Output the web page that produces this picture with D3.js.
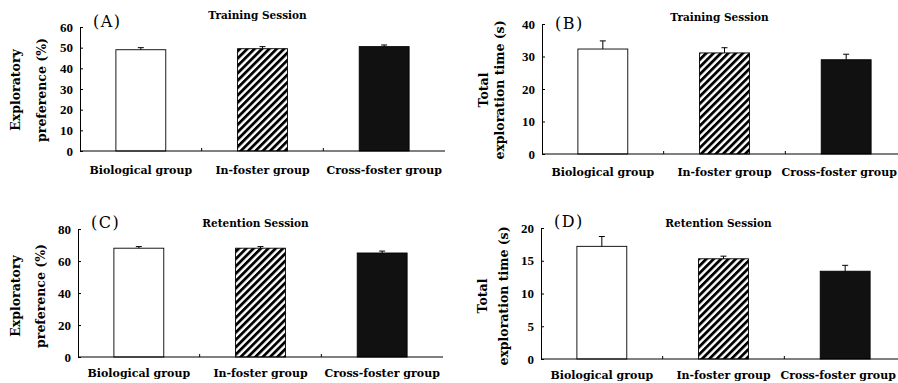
<!DOCTYPE html>
<html>
<head>
<meta charset="utf-8">
<script src="https://cdn.jsdelivr.net/npm/d3@7"></script>
<style>
    body { margin: 0; background: #fff; }
    svg { display: block; }
    text { font-family: "DejaVu Serif", "Liberation Serif", serif; fill: #000; }
</style>
</head>
<body>
<svg id="chart" width="898" height="383"></svg>
<script>
//categories
var groups = ['Biological group', 'In-foster group', 'Cross-foster group'];

//training session values
var prefTraining = [49, 49.5, 50.5],
    prefTrainingErr = [1, 1, 0.8],
    timeTraining = [32.3, 31.1, 29.0],
    timeTrainingErr = [2.5, 1.6, 1.7];

//retention session values
var prefRetention = [68, 68, 65],
    prefRetentionErr = [1, 1, 1.2],
    timeRetention = [17.2, 15.3, 13.4],
    timeRetentionErr = [1.5, 0.4, 0.9];

//tick labels
var prefTrainingTicks = [0, 10, 20, 30, 40, 50, 60],
    timeTrainingTicks = [0, 10, 20, 30, 40],
    prefRetentionTicks = [0, 20, 40, 60, 80],
    timeRetentionTicks = [0, 5, 10, 15, 20];

var svg = d3.select('#chart');

//hatch pattern for in-foster bars
var defs = svg.append('defs');
defs.append('pattern')
    .attr('id', 'hatch')
    .attr('patternUnits', 'userSpaceOnUse')
    .attr('width', 5.2)
    .attr('height', 5.2)
    .attr('patternTransform', 'rotate(45)')
    .call(function (p) {
        p.append('rect').attr('width', 5.2).attr('height', 5.2).attr('fill', '#fff');
        p.append('rect').attr('x', 0).attr('y', 0).attr('width', 2.8).attr('height', 5.2)
            .attr('fill', '#000');
    });

var fills = ['#fff', 'url(#hatch)', '#111'];

//draws one panel
function drawPanel(o) {
    var x = d3.scaleBand().domain(groups)
        .range([o.left, o.right])
        .paddingInner(0.59).paddingOuter(0.295);
    var y = d3.scaleLinear().domain([0, o.max]).range([o.bottom, o.top]);

    var g = svg.append('g');

    //bars
    g.selectAll('.bar')
        .data(o.values)
        .enter().append('rect')
        .attr('class', 'bar')
        .attr('x', function (d, i) { return x(groups[i]); })
        .attr('width', x.bandwidth())
        .attr('y', function (d) { return y(d); })
        .attr('height', function (d) { return y(0) - y(d); })
        .attr('fill', function (d, i) { return fills[i]; })
        .attr('stroke', '#000')
        .attr('stroke-width', 0.9);

    //error bars (upper only)
    o.values.forEach(function (v, i) {
        var cx = x(groups[i]) + x.bandwidth() / 2;
        g.append('line').attr('x1', cx).attr('x2', cx)
            .attr('y1', y(v)).attr('y2', y(v + o.errors[i]))
            .attr('stroke', '#000').attr('stroke-width', 1);
        g.append('line').attr('x1', cx - 3).attr('x2', cx + 3)
            .attr('y1', y(v + o.errors[i])).attr('y2', y(v + o.errors[i]))
            .attr('stroke', '#000').attr('stroke-width', 1);
    });

    //y axis
    var yAxis = d3.axisLeft(y).tickValues(o.ticks).tickSizeInner(-3).tickSizeOuter(0).tickPadding(7);
    var ya = g.append('g').attr('transform', 'translate(' + o.left + ',0)').call(yAxis);
    ya.selectAll('text').style('font-family', '"Liberation Serif", serif')
        .style('font-size', '13px').style('font-weight', 'bold');

    //x axis
    var xa = g.append('g').attr('transform', 'translate(0,' + o.bottom + ')');
    xa.append('line').attr('x1', o.left).attr('x2', o.right).attr('stroke', '#000');
    xa.selectAll('.xtick')
        .data(x.domain().slice(1))
        .enter().append('line')
        .attr('x1', function (d) { return x(d) - x.step() * 0.295; })
        .attr('x2', function (d) { return x(d) - x.step() * 0.295; })
        .attr('y1', 0).attr('y2', -3)
        .attr('stroke', '#000');
    xa.selectAll('.xlabel')
        .data(groups)
        .enter().append('text')
        .attr('x', function (d, i) { return x(d) + x.bandwidth() / 2 - (i === 2 ? o.lastShift : 0); })
        .attr('y', o.labelDy)
        .attr('text-anchor', 'middle')
        .style('font-size', '11px')
        .style('font-weight', 'bold')
        .text(function (d) { return d; });

    //title and panel letter
    g.append('text')
        .attr('x', x(groups[1]) + x.bandwidth() / 2 - 5)
        .attr('y', o.titleY)
        .attr('text-anchor', 'middle')
        .style('font-size', '10.5px')
        .style('font-weight', 'bold')
        .text(o.title);
    g.append('text')
        .attr('x', o.left + 13)
        .attr('y', o.letterY)
        .style('font-size', '16px')
        .style('letter-spacing', '1.5px')
        .text(o.letter);

    //y label lines
    o.yLabel.forEach(function (t, i) {
        g.append('text')
            .attr('transform', 'translate(' + o.yLabelX[i] + ',' + o.yLabelY + ') rotate(-90)')
            .attr('text-anchor', 'middle')
            .style('font-size', '12.5px')
            .style('font-weight', 'bold')
            .text(t);
    });
}

drawPanel({ left: 80, right: 445, top: 27, bottom: 151, max: 60, ticks: prefTrainingTicks,
    values: prefTraining, errors: prefTrainingErr, labelDy: 23, title: 'Training Session', titleY: 19,
    letter: '(A)', letterY: 27, yLabel: ['Exploratory', 'preference (%)'], yLabelX: [20, 46], yLabelY: 90, lastShift: 0 });

drawPanel({ left: 542, right: 907, top: 24, bottom: 154, max: 40, ticks: timeTrainingTicks,
    values: timeTraining, errors: timeTrainingErr, labelDy: 22, title: 'Training Session', titleY: 21,
    letter: '(B)', letterY: 29, yLabel: ['Total', 'exploration time (s)'], yLabelX: [488, 504], yLabelY: 90, lastShift: 7 });

drawPanel({ left: 78, right: 443, top: 229, bottom: 357, max: 80, ticks: prefRetentionTicks,
    values: prefRetention, errors: prefRetentionErr, labelDy: 20, title: 'Retention Session', titleY: 227,
    letter: '(C)', letterY: 228, yLabel: ['Exploratory', 'preference (%)'], yLabelX: [20, 45], yLabelY: 296, lastShift: 0 });

drawPanel({ left: 541, right: 906, top: 228, bottom: 359, max: 20, ticks: timeRetentionTicks,
    values: timeRetention, errors: timeRetentionErr, labelDy: 20, title: 'Retention Session', titleY: 227,
    letter: '(D)', letterY: 227, yLabel: ['Total', 'exploration time (s)'], yLabelX: [487, 508], yLabelY: 296, lastShift: 7 });
</script>
</body>
</html>
